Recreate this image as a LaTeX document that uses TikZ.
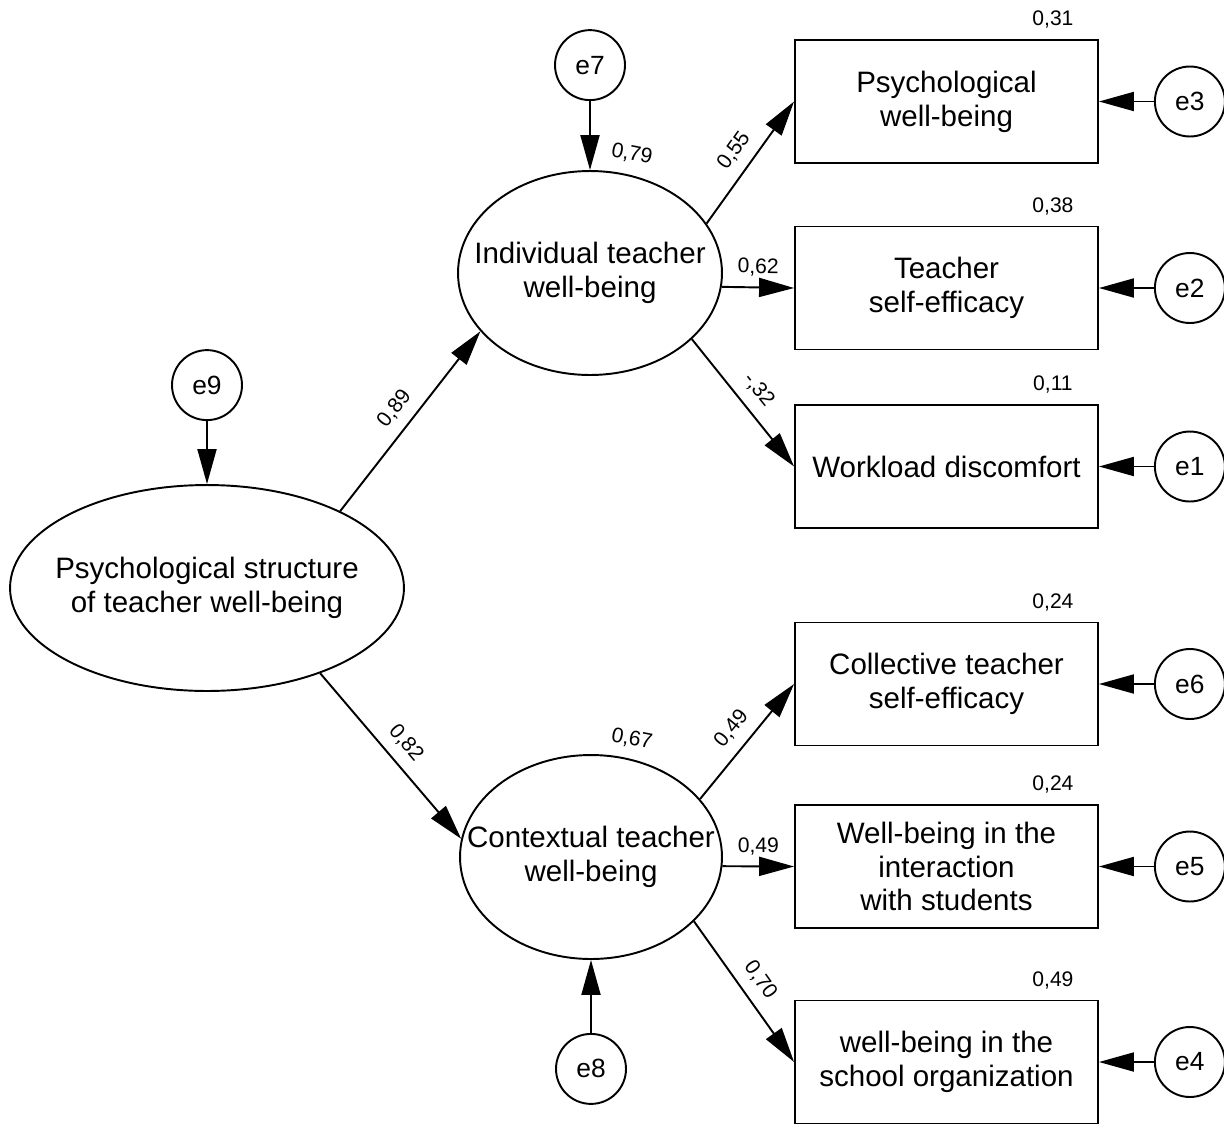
\documentclass[tikz,border=0pt]{standalone}
\usepackage{fontspec}
\setmainfont{Liberation Sans}
\usetikzlibrary{arrows.meta, positioning, shapes.geometric}
\tikzset{
  every picture/.style={line width=1.1pt},
  big/.style={font=\fontsize{16.8}{19.3}\selectfont, align=center},
  latent/.style={draw, ellipse, inner sep=0pt, minimum width=5.28cm, minimum height=4.08cm},
  obs/.style={draw, big, minimum width=6.06cm, minimum height=2.46cm},
  err/.style={draw, circle, inner sep=0pt, minimum size=1.4cm, font=\fontsize{15}{18}\selectfont},
  arrow/.style={-{Triangle[length=0.7cm, width=0.38cm]}},
  est/.style={font=\fontsize{12}{14}\selectfont, inner sep=1pt},
  coef/.style={est, sloped, above=5pt},
  r2/.style={est, anchor=base, xshift=-0.92cm, yshift=0.27cm},
}
\newcommand{\indicator}[5]{
  \node[obs] (#1) at (946.5,#2) {#3};
  \node[r2] (#1-r2) at (#1.north east) {#4};
  \node[err, right=1.1cm of #1] (#5) {#5};
  \draw[arrow] (#5) -- (#1);
}

\begin{document}
\begin{tikzpicture}[x=0.02cm, y=-0.02cm]
  \useasboundingbox (0,0) rectangle (1224,1123);
  % latent factors
  \node[latent, minimum width=7.88cm, minimum height=4.12cm] (struct) at (207,588) {};
  \node[big] (struct-t) at (struct) {Psychological structure\\of teacher well-being};
  \node[latent] (indiv) at (590,273) {};
  \node[big] (indiv-t) at (indiv) {Individual teacher\\well-being};
  \node[latent, minimum width=5.24cm] (context) at (591,857) {};
  \node[big] (context-t) at (context) {Contextual teacher\\well-being};
  % disturbances
  \node[err, above=1.26cm of struct] (e9) {e9};
  \node[err, above=1.38cm of indiv] (e7) {e7};
  \node[err, below=1.46cm of context] (e8) {e8};
  \draw[arrow] (e9) -- (struct);
  \draw[arrow] (e7) -- (indiv);
  \draw[arrow] (e8) -- (context);
  \node[est, rotate=-11] (indiv-r2) at ([xshift=0.84cm, yshift=0.32cm]indiv.north) {0,79};
  \node[est, rotate=-11] (context-r2) at ([xshift=0.82cm, yshift=0.30cm]context.north) {0,67};
  % indicators
  \indicator{psy}{101.5}{Psychological\\well-being}{0,31}{e3}
  \indicator{eff}{288}{Teacher\\self-efficacy}{0,38}{e2}
  \indicator{load}{466.5}{Workload discomfort}{0,11}{e1}
  \indicator{coll}{684}{Collective teacher\\self-efficacy}{0,24}{e6}
  \indicator{stud}{866.5}{Well-being in the\\interaction\\with students}{0,24}{e5}
  \indicator{org}{1062}{well-being in the\\school organization}{0,49}{e4}
  % loadings
  \draw[arrow] (struct.30) -- node[coef] {0,89} (indiv.208);
  \draw[arrow] (struct.-37) -- node[coef] {0,82} (context.172.6);
  \draw[arrow] (indiv.23.5) -- node[coef] {0,55} (psy.west);
  \draw[arrow] (indiv.-6.5) -- node[coef] {0,62} (eff.west);
  \draw[arrow] (indiv.-33.3) -- node[coef] {-,32} (load.west);
  \draw[arrow] (context.28.9) -- node[coef] {0,49} (coll.west);
  \draw[arrow] (context.-4.2) -- node[coef] {0,49} (stud.west);
  \draw[arrow] (context.-32.9) -- node[coef] {0,70} (org.west);
\end{tikzpicture}
\end{document}
